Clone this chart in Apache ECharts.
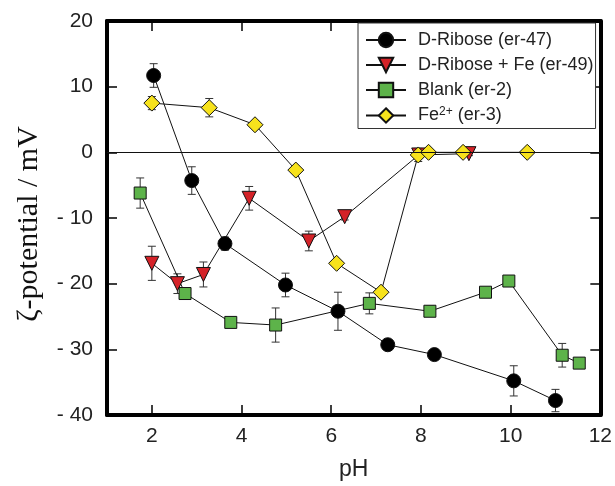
<!DOCTYPE html>
<html>
<head>
<meta charset="utf-8">
<script src="https://cdn.jsdelivr.net/npm/echarts@6/dist/echarts.min.js"></script>
<style>html,body{margin:0;padding:0;background:#fff}#c{width:615px;height:486px}</style>
</head>
<body>
<div id="c"></div>
<script>
// ---- data ----
var xTicks = [2, 4, 6, 8, 10, 12];
var yTicks = [-40, -30, -20, -10, 0, 10, 20];

var seriesNames = ['D-Ribose (er-47)', 'D-Ribose + Fe (er-49)', 'Blank (er-2)', 'Fe2+ (er-3)'];

var riboseX   = [2.04, 2.89, 3.63, 4.98, 6.15, 7.26, 8.30, 10.07, 11.0];
var riboseY   = [11.7, -4.3, -13.9, -20.2, -24.2, -29.3, -30.8, -34.8, -37.8];
var riboseErr = [1.8, 2.1, 1.0, 1.8, 2.9, 0.6, 0.6, 2.3, 1.7];

var riboseFeX   = [2.0, 2.57, 3.15, 4.17, 5.5, 6.3, 7.95, 9.07];
var riboseFeY   = [-16.9, -20.0, -18.6, -7.0, -13.5, -9.8, -0.4, -0.2];
var riboseFeErr = [2.6, 1.5, 1.9, 1.8, 1.5, 0.5, 0.5, 0.3];

var blankX   = [1.74, 2.74, 3.76, 4.76, 6.85, 8.2, 9.44, 9.96, 11.15, 11.53];
var blankY   = [-6.2, -21.5, -25.9, -26.3, -23.0, -24.2, -21.3, -19.6, -30.9, -32.1];
var blankErr = [2.3, 0.5, 0.5, 2.6, 1.6, 0.8, 0.4, 0.4, 1.8, 0.6];

var feX   = [2.0, 3.28, 4.3, 5.21, 6.12, 7.11, 7.94, 8.17, 8.94, 10.37];
var feY   = [7.5, 6.8, 4.2, -2.7, -16.9, -21.3, -0.4, 0.0, 0.0, 0.0];
var feErr = [1.0, 1.4, 0.3, 0.3, 0.3, 0.3, 1.0, 0.3, 0.3, 0.3];

// ---- build ----
function zip(xs, ys) { return xs.map(function (x, i) { return [x, ys[i]]; }); }
function zip3(xs, ys, es) { return xs.map(function (x, i) { return [x, ys[i], es[i]]; }); }

function errSeries(xs, ys, es) {
  return {
    type: 'custom',
    silent: true,
    z: 1,
    data: zip3(xs, ys, es),
    encode: { x: 0, y: 1 },
    renderItem: function (params, api) {
      var x = api.value(0), y = api.value(1), e = api.value(2);
      var top = api.coord([x, y + e]);
      var bot = api.coord([x, y - e]);
      var w = 4;
      var st = { stroke: '#333', lineWidth: 1 };
      return {
        type: 'group',
        children: [
          { type: 'line', shape: { x1: top[0], y1: top[1], x2: bot[0], y2: bot[1] }, style: st },
          { type: 'line', shape: { x1: top[0] - w, y1: top[1], x2: top[0] + w, y2: top[1] }, style: st },
          { type: 'line', shape: { x1: bot[0] - w, y1: bot[1], x2: bot[0] + w, y2: bot[1] }, style: st }
        ]
      };
    }
  };
}

function lineSeries(name, xs, ys, symbol, size, color, rotate) {
  return {
    name: name,
    type: 'line',
    z: 3,
    data: zip(xs, ys),
    symbol: symbol,
    symbolSize: size,
    symbolRotate: rotate || 0,
    showAllSymbol: true,
    lineStyle: { color: '#111', width: 1 },
    itemStyle: { color: color, borderColor: '#111', borderWidth: 1 },
    emphasis: { disabled: true },
    animation: false
  };
}

var labelFont = 'Liberation Sans';

var s1 = lineSeries(seriesNames[0], riboseX, riboseY, 'circle', 14, '#000');
s1.markLine = {
  silent: true, symbol: 'none', animation: false,
  label: { show: false },
  lineStyle: { color: '#111', width: 1, type: 'solid' },
  data: [{ yAxis: 0 }]
};

var tickStyle = { color: '#000', width: 1.5 };

var option = {
  animation: false,
  backgroundColor: '#fff',
  grid: { left: 107, right: 13, top: 21, bottom: 69 },
  legend: {
    orient: 'vertical',
    left: 358, top: 23,
    padding: [8, 2, 4, 7],
    itemWidth: 40, itemHeight: 18, itemGap: 7,
    borderColor: '#333', borderWidth: 1,
    backgroundColor: '#fff',
    data: seriesNames,
    selectedMode: false,
    textStyle: {
      fontFamily: labelFont, fontSize: 18, color: '#222', padding: [0, 0, 0, 7],
      rich: {
        a: { fontFamily: labelFont, fontSize: 18, color: '#222' },
        b: { fontFamily: labelFont, fontSize: 12, color: '#222', verticalAlign: 'top', padding: [0, 0, 7, 0] }
      }
    },
    formatter: function (n) {
      if (n === 'Fe2+ (er-3)') return '{a|Fe}{b|2+}{a| (er-3)}';
      return n;
    }
  },
  xAxis: [{
    type: 'value', min: 1, max: 12,
    name: 'pH', nameLocation: 'middle', nameGap: 43,
    nameTextStyle: { fontFamily: labelFont, fontSize: 23, color: '#222' },
    axisLine: { show: true, onZero: false, lineStyle: { color: '#000', width: 4 } },
    axisTick: { show: true, inside: true, length: 10, customValues: [2, 4, 6, 8, 10], lineStyle: tickStyle },
    axisLabel: { customValues: xTicks, fontFamily: labelFont, fontSize: 21, color: '#222', margin: 11 },
    splitLine: { show: false }
  }, {
    type: 'value', min: 1, max: 12, position: 'top',
    axisLine: { show: true, onZero: false, lineStyle: { color: '#000', width: 4 } },
    axisTick: { show: true, inside: true, length: 10, customValues: [2, 4, 6, 8, 10], lineStyle: tickStyle },
    axisLabel: { show: false },
    splitLine: { show: false }
  }],
  yAxis: [{
    type: 'value', min: -40, max: 20, interval: 10,
    name: 'ζ-potential / mV', nameLocation: 'middle', nameGap: 63, nameRotate: 90,
    nameTextStyle: { fontFamily: 'Liberation Serif', fontSize: 30, color: '#111', padding: [0, 12, 0, 0] },
    axisLine: { show: true, onZero: false, lineStyle: { color: '#000', width: 4 } },
    axisTick: { show: true, inside: true, length: 10, lineStyle: tickStyle },
    axisLabel: {
      fontFamily: labelFont, fontSize: 21, color: '#222', margin: 14,
      formatter: function (v) { return v < 0 ? '- ' + Math.abs(v) : String(v); }
    },
    splitLine: { show: false }
  }, {
    type: 'value', min: -40, max: 20, interval: 10, position: 'right',
    axisLine: { show: true, onZero: false, lineStyle: { color: '#000', width: 4 } },
    axisTick: { show: true, inside: true, length: 10, lineStyle: tickStyle },
    axisLabel: { show: false },
    splitLine: { show: false }
  }],
  series: [
    errSeries(riboseX, riboseY, riboseErr),
    errSeries(riboseFeX, riboseFeY, riboseFeErr),
    errSeries(blankX, blankY, blankErr),
    errSeries(feX, feY, feErr),
    s1,
    lineSeries(seriesNames[1], riboseFeX, riboseFeY, 'triangle', 14, '#d42228', 180),
    lineSeries(seriesNames[2], blankX, blankY, 'rect', 12, '#5db34a'),
    lineSeries(seriesNames[3], feX, feY, 'diamond', 16, '#f7e21c')
  ]
};

var chart = echarts.init(document.getElementById('c'), null, { renderer: 'canvas' });
chart.setOption(option);
</script>
</body>
</html>
